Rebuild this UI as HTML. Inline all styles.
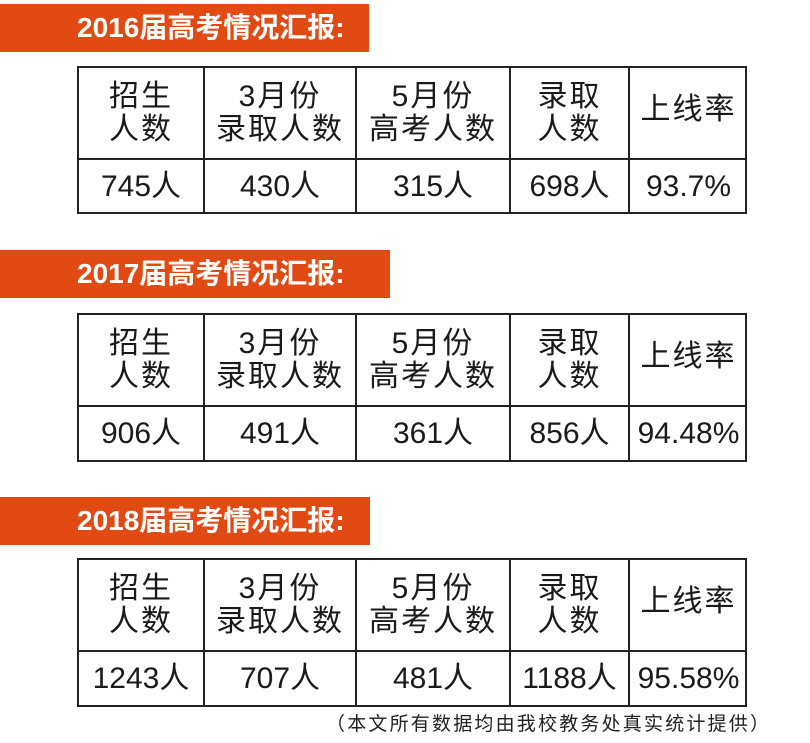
<!DOCTYPE html>
<html><head><meta charset="utf-8"><style>
body{margin:0;width:810px;height:743px;background:#fff;position:relative;overflow:hidden;font-family:"Liberation Sans","Noto Sans CJK SC",sans-serif;color:#1a1a1a}
.b{position:absolute;left:0;height:48px;background:#e24a14;color:#fff;font-weight:bold;font-size:28px;line-height:48px;box-sizing:border-box;padding-left:77px;letter-spacing:0px}
.t{position:absolute;left:77px;width:670px;border:2px solid #222;box-sizing:border-box}
.c{position:absolute;border-right:2px solid #222;box-sizing:border-box;display:flex;align-items:center;justify-content:center;text-align:center;font-size:30px;line-height:33px}
.h{border-bottom:2px solid #222;letter-spacing:2px}
.n{position:absolute;left:326px;top:709px;font-size:19px;color:#222;letter-spacing:2.2px}
</style></head><body>
<div class="b" style="top:4px;width:369px">2016届高考情况汇报:</div>
<div class="b" style="top:250px;width:390px">2017届高考情况汇报:</div>
<div class="b" style="top:497px;width:370px">2018届高考情况汇报:</div>

<div class="t" style="top:66px;height:148px">
<div class="c h" style="left:0;top:0;width:126px;height:92px">招生<br>人数</div>
<div class="c h" style="left:126px;top:0;width:152px;height:92px">3月份<br>录取人数</div>
<div class="c h" style="left:278px;top:0;width:154px;height:92px">5月份<br>高考人数</div>
<div class="c h" style="left:432px;top:0;width:119px;height:92px">录取<br>人数</div>
<div class="c h" style="left:551px;top:0;width:117px;height:82px;border:none">上线率</div>
<div class="c h" style="left:551px;top:0;width:117px;height:92px;border-right:none;"></div>
<div class="c" style="left:0;top:92px;width:126px;height:52px">745人</div>
<div class="c" style="left:126px;top:92px;width:152px;height:52px">430人</div>
<div class="c" style="left:278px;top:92px;width:154px;height:52px">315人</div>
<div class="c" style="left:432px;top:92px;width:119px;height:52px">698人</div>
<div class="c" style="left:551px;top:92px;width:117px;height:52px;border-right:none">93.7%</div>
</div>

<div class="t" style="top:313px;height:149px">
<div class="c h" style="left:0;top:0;width:126px;height:92px">招生<br>人数</div>
<div class="c h" style="left:126px;top:0;width:152px;height:92px">3月份<br>录取人数</div>
<div class="c h" style="left:278px;top:0;width:154px;height:92px">5月份<br>高考人数</div>
<div class="c h" style="left:432px;top:0;width:119px;height:92px">录取<br>人数</div>
<div class="c h" style="left:551px;top:0;width:117px;height:82px;border:none">上线率</div>
<div class="c h" style="left:551px;top:0;width:117px;height:92px;border-right:none"></div>
<div class="c" style="left:0;top:92px;width:126px;height:53px">906人</div>
<div class="c" style="left:126px;top:92px;width:152px;height:53px">491人</div>
<div class="c" style="left:278px;top:92px;width:154px;height:53px">361人</div>
<div class="c" style="left:432px;top:92px;width:119px;height:53px">856人</div>
<div class="c" style="left:551px;top:92px;width:117px;height:53px;border-right:none">94.48%</div>
</div>

<div class="t" style="top:558px;height:149px">
<div class="c h" style="left:0;top:0;width:126px;height:92px">招生<br>人数</div>
<div class="c h" style="left:126px;top:0;width:152px;height:92px">3月份<br>录取人数</div>
<div class="c h" style="left:278px;top:0;width:154px;height:92px">5月份<br>高考人数</div>
<div class="c h" style="left:432px;top:0;width:119px;height:92px">录取<br>人数</div>
<div class="c h" style="left:551px;top:0;width:117px;height:82px;border:none">上线率</div>
<div class="c h" style="left:551px;top:0;width:117px;height:92px;border-right:none"></div>
<div class="c" style="left:0;top:92px;width:126px;height:53px">1243人</div>
<div class="c" style="left:126px;top:92px;width:152px;height:53px">707人</div>
<div class="c" style="left:278px;top:92px;width:154px;height:53px">481人</div>
<div class="c" style="left:432px;top:92px;width:119px;height:53px">1188人</div>
<div class="c" style="left:551px;top:92px;width:117px;height:53px;border-right:none">95.58%</div>
</div>
<div class="n">（本文所有数据均由我校教务处真实统计提供）</div>
</body></html>
